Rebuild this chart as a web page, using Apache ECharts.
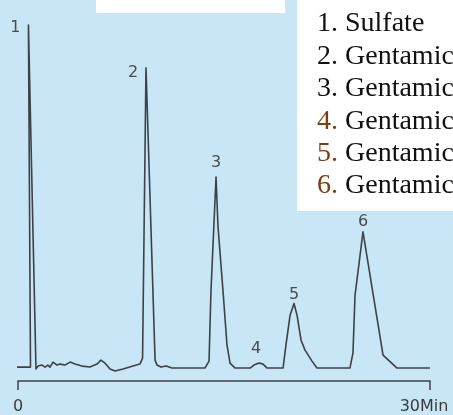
<!DOCTYPE html>
<html>
<head>
<meta charset="utf-8">
<script src="https://cdn.jsdelivr.net/npm/echarts@6/dist/echarts.min.js"></script>
<style>
  html, body { margin: 0; padding: 0; background: #c8e6f6; }
  #chart { width: 453px; height: 415px; }
</style>
</head>
<body>
<div id="chart"></div>
<script>
// Chromatogram trace: retention time (min) and detector signal (baseline = 0)
const traceTime = [
  -0.44, 0.91, 0.76, 1.31, 1.46, 1.75, 1.97, 2.18, 2.33, 2.55, 2.84, 3.06, 3.42,
  3.79, 4.15, 4.66, 5.24, 5.75, 6.04, 6.33, 6.70, 7.06, 7.65, 8.37, 8.88, 9.07,
  9.32, 9.98, 10.12, 10.41, 10.78, 11.21, 13.61, 13.91, 14.05, 14.42, 14.56,
  14.93, 15.22, 15.44, 15.81, 16.90, 17.18, 17.55, 17.84, 18.14, 19.30, 19.51,
  19.81, 20.10, 20.32, 20.61, 20.90, 21.41, 21.77, 24.17, 24.39, 24.54, 25.12,
  26.58, 27.60, 30.00
];
const traceSignal = [
  1, 1, 345, -1, 2, 3, 1, 3, 1, 6, 3, 4, 3,
  6, 4, 2, 1, 4, 8, 5, -1, -3, -1, 2, 4, 10,
  302, 8, 3, 1, 2, 0, 0, 7, 77, 192, 143,
  77, 23, 5, 0, 0, 3, 5, 4, 0, 0, 23,
  53, 65, 53, 28, 18, 7, 0, 0, 15, 73, 137,
  13, 0, 0
];

// Peak apexes and their numbers
const peakNumbers = ['1', '2', '3', '4', '5', '6'];
const peakTimes = [0.76, 9.32, 14.42, 17.55, 20.10, 25.12];
const peakSignals = [345, 302, 192, 5, 65, 137];

// Peak identification list
const compoundNumbers = ['1.', '2.', '3.', '4.', '5.', '6.'];
const compoundNames = ['Sulfate', 'Gentamic', 'Gentamic', 'Gentamic', 'Gentamic', 'Gentamic'];

// Axis ticks
const tickValues = [0, 30];
const tickLabels = ['0', '30Min'];

// Label placement around each apex (px)
const peakLabelOffsets = [[-13, 3], [-13, 5], [0, -14], [-3, -14], [0, -9], [0, -10]];
const numberColors = ['#111', '#111', '#111', '#7a3e12', '#7a3e12', '#7a3e12'];

const lineColor = '#3c4248';
const sansFont = '"DejaVu Sans", "Liberation Sans", sans-serif';
const serifFont = '"Liberation Serif", "Times New Roman", serif';

const chart = echarts.init(document.getElementById('chart'), null, { renderer: 'canvas' });

const listItems = compoundNames.map((name, i) => ({
  type: 'text',
  left: 317,
  top: 26 + i * 32.4 - 16,
  style: {
    text: '{n|' + compoundNumbers[i] + '} {t|' + name + '}',
    rich: {
      n: { fontFamily: serifFont, fontSize: 28, fill: numberColors[i], color: numberColors[i] },
      t: { fontFamily: serifFont, fontSize: 28, fill: '#111', color: '#111' }
    },
    font: '28px "Liberation Serif", serif',
    fill: '#111'
  },
  z: 20
}));

chart.setOption({
  backgroundColor: '#c8e6f6',
  animation: false,
  grid: { left: 18, right: 23, top: 20, bottom: 32 },
  xAxis: {
    type: 'value',
    min: 0,
    max: 30,
    interval: 30,
    splitLine: { show: false },
    axisLine: { show: true, onZero: false, lineStyle: { color: lineColor, width: 1.5 } },
    axisTick: { show: true, length: 9, lineStyle: { color: lineColor, width: 1.5 } },
    axisLabel: {
      margin: 18,
      fontFamily: sansFont,
      fontSize: 16,
      color: '#3a3a3a',
      formatter: (v) => {
        const i = tickValues.indexOf(v);
        if (i < 0) return '';
        return i === tickValues.length - 1 ? '{r|' + tickLabels[i] + '}' : tickLabels[i];
      },
      rich: {
        r: { fontFamily: sansFont, fontSize: 16, color: '#3a3a3a', padding: [0, 12, 0, 0] }
      }
    }
  },
  yAxis: {
    type: 'value',
    min: -13,
    max: 350,
    show: false,
    splitLine: { show: false }
  },
  series: [
    {
      type: 'line',
      data: traceTime.map((t, i) => [t, traceSignal[i]]),
      showSymbol: false,
      clip: false,
      smooth: false,
      lineStyle: { color: lineColor, width: 1.6, join: 'round' }
    },
    {
      type: 'scatter',
      symbolSize: 0,
      clip: false,
      data: peakTimes.map((t, i) => ({
        value: [t, peakSignals[i]],
        label: { offset: peakLabelOffsets[i] }
      })),
      label: {
        show: true,
        position: 'inside',
        fontFamily: sansFont,
        fontSize: 16,
        color: '#262626',
        formatter: (p) => peakNumbers[p.dataIndex]
      }
    }
  ],
  graphic: [
    { type: 'rect', shape: { x: 96, y: 0, width: 189, height: 13 }, style: { fill: '#ffffff' }, z: 10 },
    { type: 'rect', shape: { x: 297, y: 0, width: 160, height: 211 }, style: { fill: '#ffffff' }, z: 10 }
  ].concat(listItems)
});
</script>
</body>
</html>
